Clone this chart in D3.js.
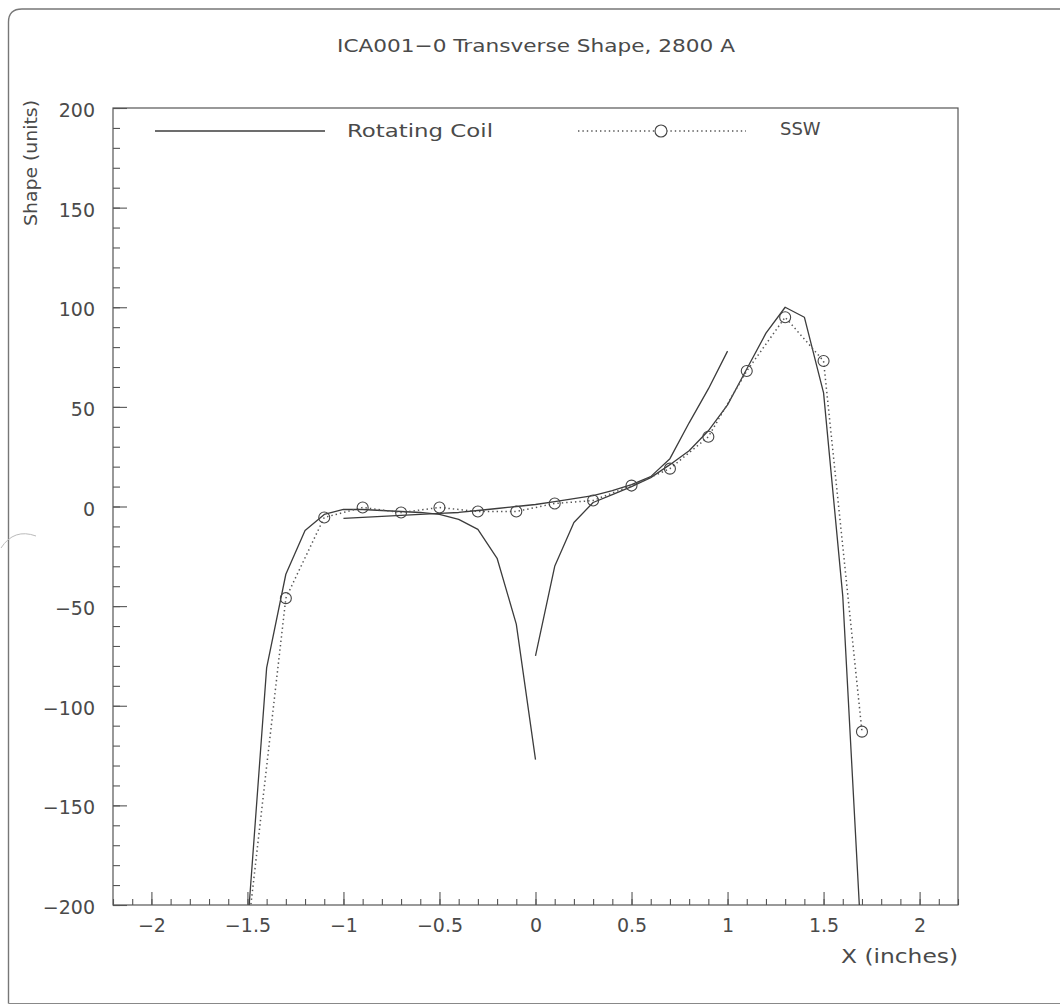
<!DOCTYPE html>
<html>
<head>
<meta charset="utf-8">
<script src="https://cdn.jsdelivr.net/npm/d3@7"></script>
<style>
  html, body { margin: 0; padding: 0; background: #fff; }
  svg { display: block; }
  text { font-family: "DejaVu Sans", sans-serif; fill: #4a4a4a; }
</style>
</head>
<body>
<svg id="chart" width="1060" height="1006"></svg>
<script>
// ---------- data ----------
const title = "ICA001\u22120 Transverse Shape, 2800 A";
const xLabel = "X (inches)";
const yLabel = "Shape (units)";
const seriesNames = ["Rotating Coil", "SSW"];

// Rotating coil: three measurement segments
const coilX1 = [-1.5, -1.4, -1.3, -1.2, -1.1, -1.0, -0.9, -0.8, -0.7, -0.6, -0.5, -0.4, -0.3, -0.2, -0.1, 0.0];
const coilY1 = [-212, -81, -34, -12, -4, -1.5, -1.5, -2, -2.5, -3, -4, -6.5, -11.5, -26, -59, -127];

const coilX2 = [-1.0, -0.9, -0.8, -0.7, -0.6, -0.5, -0.4, -0.3, -0.2, -0.1, 0.0, 0.1, 0.2, 0.3, 0.4, 0.5, 0.6, 0.7, 0.8, 0.9, 1.0];
const coilY2 = [-6, -5.5, -5, -4.5, -4, -3.5, -3, -2, -1, 0, 1, 2.5, 4, 5.5, 8, 11, 15, 24, 42, 59, 78];

const coilX3 = [0.0, 0.1, 0.2, 0.3, 0.4, 0.5, 0.6, 0.7, 0.8, 0.9, 1.0, 1.1, 1.2, 1.3, 1.4, 1.5, 1.6, 1.7];
const coilY3 = [-75, -30, -8, 2, 6, 10, 14.5, 21, 28, 38, 51, 69, 87, 100, 95, 57, -45, -225];

// SSW measurements
const sswX = [-1.5, -1.3, -1.1, -0.9, -0.7, -0.5, -0.3, -0.1, 0.1, 0.3, 0.5, 0.7, 0.9, 1.1, 1.3, 1.5, 1.7];
const sswY = [-215, -46, -5.5, -0.5, -3, -0.5, -2.5, -2.5, 1.5, 3, 10.5, 19, 35, 68, 95, 73, -113];

// axes ticks
const xMajorTicks = [-2, -1.5, -1, -0.5, 0, 0.5, 1, 1.5, 2];
const xTickLabels = ["\u22122", "\u22121.5", "\u22121", "\u22120.5", "0", "0.5", "1", "1.5", "2"];
const yMajorTicks = [-200, -150, -100, -50, 0, 50, 100, 150, 200];
const yTickLabels = ["\u2212200", "\u2212150", "\u2212100", "\u221250", "0", "50", "100", "150", "200"];

// ---------- layout ----------
const svg = d3.select("#chart");
const L = 113, R = 958, T = 108, B = 905;
const x = d3.scaleLinear().domain([-2.2, 2.2]).range([L, R]);
const y = d3.scaleLinear().domain([-200, 200]).range([B, T]);
const ink = "#3c3c3c";

// page border (scanned sheet)
svg.append("path")
  .attr("d", "M 8.5 1003.5 L 8.5 22 Q 8.5 9 22 9 L 1060 9")
  .attr("fill", "none").attr("stroke", "#777").attr("stroke-width", 1.4);
svg.append("path")
  .attr("d", "M 8.5 1003.5 L 1060 1003.5")
  .attr("fill", "none").attr("stroke", "#888").attr("stroke-width", 1.2);
// punch-hole arc on left edge
svg.append("path")
  .attr("d", "M 1 548 Q 14 528 36 536")
  .attr("fill", "none").attr("stroke", "#bbb").attr("stroke-width", 1);

// title
svg.append("text")
  .attr("x", 536).attr("y", 52)
  .attr("text-anchor", "middle")
  .attr("font-size", 18)
  .attr("textLength", 398).attr("lengthAdjust", "spacingAndGlyphs")
  .text(title);

// clip
svg.append("clipPath").attr("id", "plotclip")
  .append("rect").attr("x", L).attr("y", T).attr("width", R - L).attr("height", B - T);

// minor ticks
const xMinor = d3.range(-22, 23).map(d => d / 10);
const yMinor = d3.range(-20, 21).map(d => d * 10);

const xAxisMinor = svg.append("g").attr("transform", `translate(0,${B})`)
  .call(d3.axisBottom(x).tickValues(xMinor).tickSizeInner(-6).tickSizeOuter(0).tickFormat(""));
const xAxis = svg.append("g").attr("transform", `translate(0,${B})`)
  .call(d3.axisBottom(x).tickValues(xMajorTicks).tickSizeInner(-13).tickSizeOuter(0).tickPadding(14)
    .tickFormat((d, i) => xTickLabels[i]));
const yAxisMinor = svg.append("g").attr("transform", `translate(${L},0)`)
  .call(d3.axisLeft(y).tickValues(yMinor).tickSizeInner(-7).tickSizeOuter(0).tickFormat(""));
const yAxis = svg.append("g").attr("transform", `translate(${L},0)`)
  .call(d3.axisLeft(y).tickValues(yMajorTicks).tickSizeInner(-14).tickSizeOuter(0).tickPadding(18)
    .tickFormat((d, i) => yTickLabels[i]));

[xAxisMinor, xAxis, yAxisMinor, yAxis].forEach(g => {
  g.select(".domain").remove();
  g.selectAll(".tick line").attr("stroke", "#555").attr("stroke-width", 1.1);
  g.selectAll(".tick text").attr("font-family", "DejaVu Sans, sans-serif")
    .attr("font-size", 19).attr("fill", "#4a4a4a");
});
yAxis.selectAll(".tick text").attr("dy", "0.45em");

// frame
svg.append("rect").attr("x", L).attr("y", T).attr("width", R - L).attr("height", B - T)
  .attr("fill", "none").attr("stroke", "#555").attr("stroke-width", 1.2);

// axis titles
svg.append("text").attr("x", R).attr("y", 963).attr("text-anchor", "end")
  .attr("font-size", 20).attr("textLength", 117).attr("lengthAdjust", "spacingAndGlyphs")
  .text(xLabel);
svg.append("text").attr("transform", "translate(37,163) rotate(-90)")
  .attr("text-anchor", "middle").attr("font-size", 17.5)
  .attr("textLength", 126).attr("lengthAdjust", "spacingAndGlyphs").text(yLabel);

// curves
const plot = svg.append("g").attr("clip-path", "url(#plotclip)");
const line = d3.line().x(d => x(d[0])).y(d => y(d[1])).curve(d3.curveLinear);

[[coilX1, coilY1], [coilX2, coilY2], [coilX3, coilY3]].forEach(([xs, ys]) => {
  plot.append("path")
    .datum(xs.map((v, i) => [v, ys[i]]))
    .attr("d", line)
    .attr("fill", "none").attr("stroke", ink).attr("stroke-width", 1.3)
    .attr("stroke-linejoin", "round");
});

const sswData = sswX.map((v, i) => [v, sswY[i]]);
plot.append("path").datum(sswData).attr("d", line)
  .attr("fill", "none").attr("stroke", "#555").attr("stroke-width", 1.5)
  .attr("stroke-dasharray", "1.4,3");
plot.selectAll("circle.ssw")
  .data(sswData.filter(d => d[1] >= -200 && d[1] <= 200))
  .enter().append("circle").attr("class", "ssw")
  .attr("cx", d => x(d[0])).attr("cy", d => y(d[1])).attr("r", 5.5)
  .attr("fill", "none").attr("stroke", "#444").attr("stroke-width", 1.1);

// legend
const ly = 131;
svg.append("line").attr("x1", 155).attr("x2", 325).attr("y1", ly).attr("y2", ly)
  .attr("stroke", ink).attr("stroke-width", 1.3);
svg.append("text").attr("x", 347).attr("y", ly + 6).attr("font-size", 18)
  .attr("textLength", 146).attr("lengthAdjust", "spacingAndGlyphs").text(seriesNames[0]);
svg.append("line").attr("x1", 578).attr("x2", 746).attr("y1", ly).attr("y2", ly)
  .attr("stroke", "#555").attr("stroke-width", 1.5).attr("stroke-dasharray", "1.4,3");
svg.append("circle").attr("cx", 661).attr("cy", ly).attr("r", 6)
  .attr("fill", "#fff").attr("stroke", "#444").attr("stroke-width", 1.1);
svg.append("text").attr("x", 780).attr("y", ly + 4).attr("font-size", 18)
  .text(seriesNames[1]);
</script>
</body>
</html>
